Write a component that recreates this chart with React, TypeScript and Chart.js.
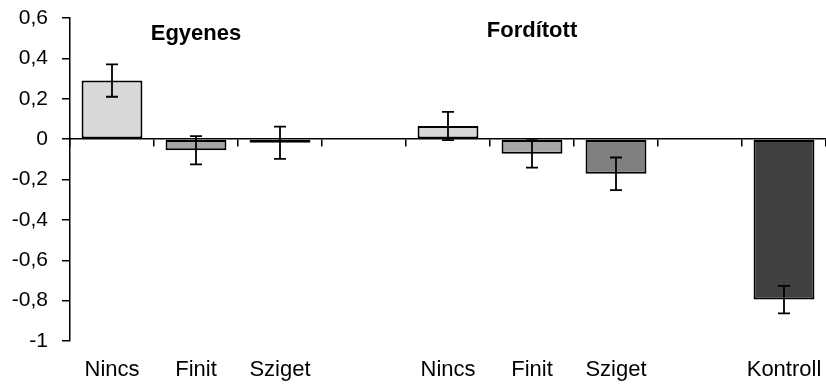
import React, { useEffect, useRef } from "react";
import { Chart, registerables } from "chart.js";

Chart.register(...registerables);

const categories = ["Nincs", "Finit", "Sziget", "", "Nincs", "Finit", "Sziget", "", "Kontroll"];
const means: (number | null)[] = [0.29, -0.055, -0.018, null, 0.065, -0.073, -0.172, null, -0.795];
const errors: (number | null)[] = [0.08, 0.07, 0.08, null, 0.07, 0.068, 0.081, null, 0.068];
const barColors = ["#d9d9d9", "#a6a6a6", "#808080", "#ffffff", "#d9d9d9", "#a6a6a6", "#808080", "#ffffff", "#404040"];
const yMin = -1;
const yMax = 0.6;
const yStep = 0.2;
const groupLabels = [
  { text: "Egyenes", index: 1, y: 0.49 },
  { text: "Fordított", index: 5, y: 0.505 },
];

const FONT = "'Liberation Sans', Arial, sans-serif";

const errorBarPlugin = {
  id: "errorBars",
  afterDatasetsDraw(chart: any) {
    const ctx = chart.ctx;
    const yScale = chart.scales.y;
    const meta = chart.getDatasetMeta(0);
    ctx.save();
    ctx.strokeStyle = "#000";
    ctx.lineWidth = 1.8;
    meta.data.forEach((bar: any, i: number) => {
      const m = means[i];
      const e = errors[i];
      if (m == null || e == null) return;
      const x = bar.x;
      const yTop = yScale.getPixelForValue(m + e);
      const yBot = yScale.getPixelForValue(m - e);
      const cap = 6;
      ctx.beginPath();
      ctx.moveTo(x, yTop);
      ctx.lineTo(x, yBot);
      ctx.moveTo(x - cap, yTop);
      ctx.lineTo(x + cap, yTop);
      ctx.moveTo(x - cap, yBot);
      ctx.lineTo(x + cap, yBot);
      ctx.stroke();
    });
    ctx.restore();
  },
  afterDraw(chart: any) {
    const ctx = chart.ctx;
    const xScale = chart.scales.x;
    const yScale = chart.scales.y;
    ctx.save();
    ctx.fillStyle = "#000";
    ctx.font = `bold 22px ${FONT}`;
    ctx.textAlign = "center";
    ctx.textBaseline = "alphabetic";
    groupLabels.forEach((g) => {
      ctx.fillText(g.text, xScale.getPixelForValue(g.index), yScale.getPixelForValue(g.y));
    });
    ctx.restore();
  },
};

export default function App() {
  const canvasRef = useRef<HTMLCanvasElement>(null);

  useEffect(() => {
    document.body.style.margin = "0";
    const canvas = canvasRef.current;
    if (!canvas) return;
    const chart = new Chart(canvas, {
      type: "bar",
      data: {
        labels: categories,
        datasets: [
          {
            data: means as any,
            backgroundColor: barColors,
            borderColor: "#000",
            borderWidth: 2,
            borderSkipped: false,
            barPercentage: 0.725,
            categoryPercentage: 1,
          },
        ],
      },
      options: {
        animation: false,
        responsive: true,
        maintainAspectRatio: false,
        layout: { padding: { top: 18, right: -3, left: 0, bottom: 0 } },
        plugins: {
          legend: { display: false },
          tooltip: { enabled: false },
        },
        scales: {
          x: {
            type: "category",
            position: { y: 0 } as any,
            offset: true,
            grid: {
              display: true,
              drawOnChartArea: false,
              drawTicks: true,
              tickLength: 7,
              color: "#000",
              lineWidth: 1.5,
              offset: true,
            },
            border: { display: true, color: "#000", width: 1.5 },
            ticks: { display: false },
            afterFit(scale: any) {
              scale.paddingLeft = 0;
              scale.paddingRight = 0;
              scale.paddingTop = 0;
              scale.paddingBottom = 0;
            },
          },
          x2: {
            type: "category",
            position: "bottom",
            offset: true,
            grid: { display: false },
            border: { display: false },
            ticks: {
              color: "#000",
              font: { family: FONT, size: 22 },
              padding: 8,
              maxRotation: 0,
              autoSkip: false,
            },
            afterFit(scale: any) {
              scale.height = 43;
              scale.paddingLeft = 0;
              scale.paddingRight = 0;
            },
          },
          y: {
            min: yMin,
            max: yMax,
            grid: {
              display: true,
              drawOnChartArea: false,
              drawTicks: true,
              tickLength: 8,
              color: "#000",
              lineWidth: 1.5,
            },
            border: { display: true, color: "#000", width: 1.5 },
            ticks: {
              stepSize: yStep,
              color: "#000",
              padding: 14,
              font: { family: FONT, size: 21 },
              callback: (v: any) => String(Math.round(Number(v) * 10) / 10).replace(".", ","),
            },
            afterFit(scale: any) {
              scale.width = 70;
              scale.paddingTop = 0;
              scale.paddingBottom = 0;
            },
          },
        },
      },
      plugins: [errorBarPlugin],
    });
    return () => chart.destroy();
  }, []);

  return (
    <div style={{ width: 826, height: 384, position: "relative" }}>
      <canvas ref={canvasRef} />
    </div>
  );
}
